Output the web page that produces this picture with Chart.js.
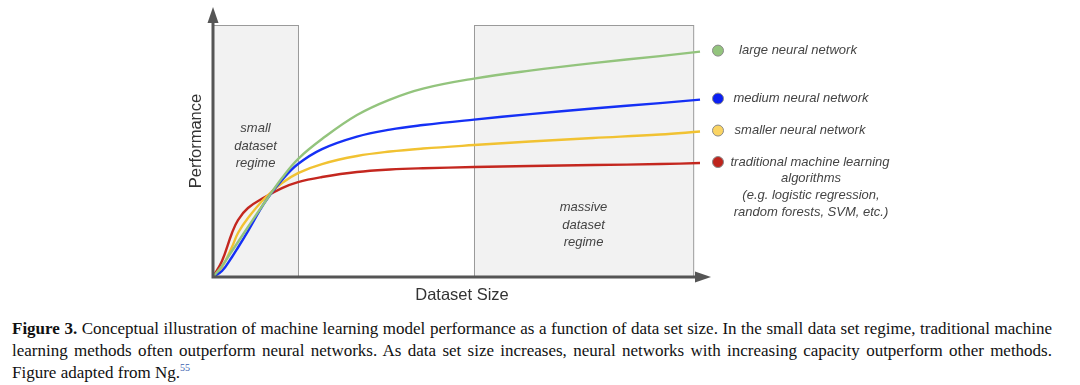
<!DOCTYPE html>
<html>
<head>
<meta charset="utf-8">
<script src="https://cdn.jsdelivr.net/npm/chart.js@4.4.1/dist/chart.umd.min.js"></script>
<style>
  html, body { margin: 0; padding: 0; background: #fff; }
  #wrap { position: relative; width: 1080px; height: 385px; overflow: hidden; }
  #chart { position: absolute; left: 0; top: 0; }
  .cap {
    position: absolute; left: 12px; width: 1040px;
    font-family: "Liberation Serif", "Times New Roman", serif;
    font-size: 17px; line-height: 22px; color: #111;
    white-space: nowrap;
  }
  .cap.just { text-align: justify; text-align-last: justify; }
  .cap b { font-weight: bold; }
  .cap sup { color: #3a5fb0; font-size: 10px; vertical-align: 7px; line-height: 0; }
</style>
</head>
<body>
<div id="wrap">
  <canvas id="chart" width="1080" height="300"></canvas>
  <div class="cap just" style="top:318px"><b>Figure 3.</b> Conceptual illustration of machine learning model performance as a function of data set size. In the small data set regime, traditional machine</div>
  <div class="cap just" style="top:340px">learning methods often outperform neural networks. As data set size increases, neural networks with increasing capacity outperform other methods.</div>
  <div class="cap" style="top:362px">Figure adapted from Ng.<sup>55</sup></div>
</div>
<script>
// ---------- datos ----------
const tamanos = [0, 1.81, 3.82, 5.03, 7.04, 10.46, 13.88, 17.10, 21.93, 28.97, 35.61, 42.25, 52.52, 63.78, 76.46, 89.94, 97.99];

const redGrande   = [0, 4.37, 10.32, 13.89, 19.84, 29.76, 39.29, 46.83, 54.76, 64.29, 70.44, 74.8, 78.77, 81.94, 84.92, 87.7, 89.48];
const redMediana  = [0, 2.38, 7.94, 11.71, 18.25, 29.76, 38.49, 44.84, 50.79, 55.75, 58.53, 60.32, 62.5, 64.68, 66.87, 69.05, 70.44];
const redPequena  = [0, 3.97, 11.9, 17.46, 23.41, 31.35, 37.3, 41.27, 44.84, 48.02, 49.8, 50.99, 52.38, 53.77, 55.16, 56.55, 57.74];
const tradicional = [0, 6.35, 17.46, 22.62, 27.38, 31.75, 35.32, 37.7, 39.68, 41.67, 42.66, 43.17, 43.65, 44.05, 44.44, 44.84, 45.24];

const regimenPequeno = [0, 17.1];
const regimenMasivo = [52.5, 96.6];
const techoRegimen = 100;

const etiquetasPequeno = ['small', 'dataset', 'regime'];
const etiquetasMasivo = ['massive', 'dataset', 'regime'];

const leyenda = [
    ['large neural network'],
    ['medium neural network'],
    ['smaller neural network'],
    ['traditional machine learning', 'algorithms', '(e.g. logistic regression,', 'random forests, SVM, etc.)']
];
const coloresLinea = ['#93c47d', '#1530f5', '#f1c232', '#c4271f'];
const coloresPunto = ['#93c47d', '#0b1ff2', '#fad463', '#be241c'];

function puntos(serie) {
    return tamanos.map(function(x, i) { return {x: x, y: serie[i]}; });
}

const series = [redGrande, redMediana, redPequena, tradicional];

// ---------- dibujo extra: regiones, ejes, textos ----------
const extras = {
    id: 'extras',
    beforeDatasetsDraw(chart) {
        const ctx = chart.ctx;
        const x = chart.scales.x, y = chart.scales.y;
        const top = y.getPixelForValue(techoRegimen);
        const bottom = y.getPixelForValue(0);

        [[regimenPequeno, etiquetasPequeno, 52], [regimenMasivo, etiquetasMasivo, 20.6]].forEach(function(r) {
            const l = x.getPixelForValue(r[0][0]);
            const rr = x.getPixelForValue(r[0][1]);
            ctx.save();
            ctx.fillStyle = '#f2f2f2';
            ctx.fillRect(l, top, rr - l, bottom - top);
            ctx.strokeStyle = '#9a9a9a';
            ctx.lineWidth = 1;
            ctx.strokeRect(Math.round(l) + 0.5, Math.round(top) + 0.5, rr - l, bottom - top);
            ctx.fillStyle = '#444';
            ctx.font = 'italic 13px "Liberation Sans", Arial, sans-serif';
            ctx.textAlign = 'center';
            ctx.textBaseline = 'middle';
            const cy = y.getPixelForValue(r[2]);
            r[1].forEach(function(t, i) {
                ctx.fillText(t, (l + rr) / 2, cy + (i - 1) * 17.5);
            });
            ctx.restore();
        });
    },
    afterDatasetsDraw(chart) {
        const ctx = chart.ctx;
        const area = chart.chartArea;
        const x = chart.scales.x, y = chart.scales.y;
        const x0 = x.getPixelForValue(0), y0 = y.getPixelForValue(0);

        ctx.save();
        // ejes
        ctx.strokeStyle = '#555';
        ctx.fillStyle = '#555';
        ctx.lineWidth = 3;
        ctx.beginPath();
        ctx.moveTo(x0, y0 + 1.5);
        ctx.lineTo(x0, area.top + 12);
        ctx.moveTo(x0 - 1.5, y0);
        ctx.lineTo(area.right - 14, y0);
        ctx.stroke();
        ctx.beginPath();
        ctx.moveTo(x0, area.top - 3);
        ctx.lineTo(x0 - 5.5, area.top + 13);
        ctx.lineTo(x0 + 5.5, area.top + 13);
        ctx.closePath();
        ctx.fill();
        ctx.beginPath();
        ctx.moveTo(area.right + 1, y0);
        ctx.lineTo(area.right - 15, y0 - 5.5);
        ctx.lineTo(area.right - 15, y0 + 5.5);
        ctx.closePath();
        ctx.fill();

        // titulos de ejes
        ctx.fillStyle = '#333';
        ctx.font = '16.5px "Liberation Sans", Arial, sans-serif';
        ctx.textAlign = 'center';
        ctx.textBaseline = 'middle';
        ctx.fillText('Dataset Size', 462, 295);
        ctx.translate(196, 141);
        ctx.rotate(-Math.PI / 2);
        ctx.fillText('Performance', 0, 0);
        ctx.restore();

        // leyenda
        ctx.save();
        ctx.font = 'italic 13px "Liberation Sans", Arial, sans-serif';
        ctx.textBaseline = 'middle';
        ctx.textAlign = 'center';
        const centros = [798, 801, 800, 810];
        series.forEach(function(s, i) {
            const py = y.getPixelForValue(s[s.length - 1]) - 1;
            ctx.beginPath();
            ctx.arc(718, py, 5.5, 0, Math.PI * 2);
            ctx.fillStyle = coloresPunto[i];
            ctx.fill();
            ctx.lineWidth = 1;
            ctx.strokeStyle = '#8a8a8a';
            ctx.stroke();
            ctx.fillStyle = '#444';
            leyenda[i].forEach(function(t, j) {
                const cx = j === 0 ? centros[i] : 811;
                ctx.fillText(t, cx, py + (j === 0 ? 0 : j * 16.8 - 0.5));
            });
        });
        ctx.restore();
    }
};

const ctx = document.getElementById('chart').getContext('2d');
const myChart = new Chart(ctx, {
    type: 'line',
    data: {
        datasets: series.map(function(s, i) {
            return {
                label: leyenda[i][0],
                data: puntos(s),
                borderColor: coloresLinea[i],
                borderWidth: 2.4,
                pointRadius: 0,
                fill: false,
                tension: 0.4
            };
        })
    },
    options: {
        responsive: false,
        animation: false,
        devicePixelRatio: 1,
        layout: {
            padding: { left: 213, right: 370, top: 10, bottom: 23 }
        },
        plugins: {
            legend: { display: false },
            tooltip: { enabled: false }
        },
        scales: {
            x: { type: 'linear', min: 0, max: 100, display: false },
            y: { min: 0, max: 106, display: false }
        }
    },
    plugins: [extras]
});
</script>
</body>
</html>
